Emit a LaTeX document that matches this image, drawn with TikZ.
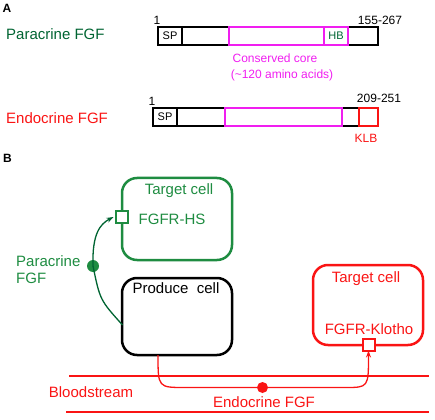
\documentclass[tikz,border=0pt]{standalone}
\usepackage{fontspec}
\setmainfont{Liberation Sans}
\usetikzlibrary{arrows.meta}
\definecolor{dgreen}{RGB}{0,100,50}
\definecolor{cgreen}{RGB}{30,140,65}
\definecolor{mag}{RGB}{240,30,240}
\definecolor{rred}{RGB}{250,20,20}
\begin{document}
\begin{tikzpicture}[x=1pt,y=-1pt,
  big/.style={font=\fontsize{15}{17}\selectfont,inner sep=0pt},
  small/.style={font=\fontsize{12}{14}\selectfont,inner sep=0pt},
  tiny/.style={font=\fontsize{11}{13}\selectfont,inner sep=0pt},
  lab/.style={font=\bfseries\fontsize{12}{14}\selectfont,inner sep=0pt},
  bar/.style={line width=1.3pt},
  cell/.style={line width=2.5pt,rounded corners=15pt,inner sep=0pt},
  rec/.style={fill=white,line width=2pt,minimum size=12pt,inner sep=0pt},
  dot/.style={circle,inner sep=0pt},
  conn/.style={line width=1.3pt}]
\useasboundingbox (0,0) rectangle (435,419);
% Panel A
\node[lab] (A) at (7,8.5) {A};
\node[big,text=dgreen,anchor=west] (pf) at (6,34) {Paracrine FGF};
\node[small] (p1) at (157,20.5) {1};
\node[small] (p2) at (380,20.5) {155-267};
\draw[bar] (158,27) rectangle (378,45);
\draw[bar] (182,27) -- (182,45);
\draw[bar,mag] (229,27) rectangle (348,45);
\draw[bar,mag] (324,27) -- (324,45);
\node[tiny] (sp1) at (170,36) {SP};
\node[tiny,text=dgreen] (hb) at (336,36) {HB};
\node[small,text=mag] (cc) at (275,58) {Conserved core};
\node[small,text=mag] (cc2) at (282,75) {(\textasciitilde120 amino acids)};
\node[big,text=rred,anchor=west] (ef) at (6,118) {Endocrine FGF};
\node[small] (e1) at (152,101) {1};
\node[small] (e2) at (379,98) {209-251};
\draw[bar] (153,108) rectangle (359,126);
\draw[bar] (177,108) -- (177,126);
\draw[bar,mag] (225,108) rectangle (342,126);
\draw[bar,rred] (359,108) rectangle (378,126);
\node[tiny] (sp2) at (165,117) {SP};
\node[small,text=rred] (klb) at (366,138) {KLB};
\node[lab] (B) at (7.5,158) {B};
% Panel B
\node[cell,draw=cgreen,minimum width=110pt,minimum height=82pt] (tg) at (177,219) {};
\node[big,text=cgreen] (tgt) at (179,191) {Target cell};
\node[big,text=cgreen] (hs) at (172,219) {FGFR-HS};
\node[rec,draw=cgreen] (sq1) at (122,217) {};
\node[cell,draw=black,minimum width=110pt,minimum height=77pt] (pc) at (177,316.5) {};
\node[big] (pct) at (176,288) {Produce\ \ cell};
\node[cell,draw=rred,minimum width=110pt,minimum height=80pt] (tr) at (368,305) {};
\node[big,text=rred] (trt) at (366,279) {Target cell};
\node[big,text=rred] (kl) at (369,329) {FGFR-Klotho};
\node[rec,draw=rred] (sq2) at (368.5,345) {};
\node[big,text=cgreen,anchor=west,align=left] (pl) at (16,269.5) {Paracrine\\FGF};
\node[dot,fill=cgreen,minimum size=12pt] (d1) at (93,266) {};
\coordinate (ps) at (122.5,325);
\draw[conn,dgreen] (ps) .. controls (100,300) .. (d1.center);
\draw[conn,dgreen,-{Stealth[length=7pt,width=5pt]}] (d1.center) .. controls (92,234) and (100,224) .. ([xshift=-1.5pt]sq1.west);
% Bloodstream
\coordinate (b1l) at (69,376); \coordinate (b1r) at (429,376);
\coordinate (b2l) at (66,412); \coordinate (b2r) at (429,412);
\draw[rred,line width=2.5pt] (b1l) -- (b1r);
\draw[rred,line width=2.5pt] (b2l) -- (b2r);
\node[big,text=rred] (bs) at (91,392) {Bloodstream};
\coordinate (es) at (158,355);
\node[dot,fill=rred,minimum size=11pt] (d2) at (262.5,387.5) {};
\draw[conn,rred,-{Stealth[length=7pt,width=5pt]}] (es) .. controls (158,387.5) .. (185,387.5) -- (d2.center) -- (345,387.5) .. controls (368.5,387.5) .. ([yshift=1.5pt]sq2.south);
\node[big,text=rred] (eft) at (264,402) {Endocrine FGF};
\end{tikzpicture}
\end{document}
